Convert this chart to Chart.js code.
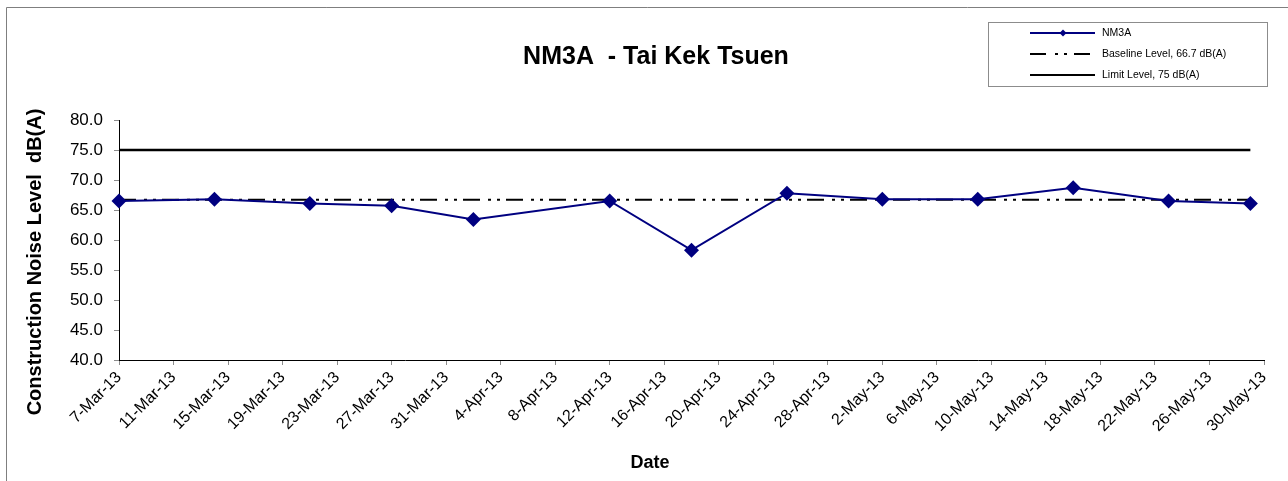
<!DOCTYPE html>
<html>
<head>
<meta charset="utf-8">
<script src="https://cdn.jsdelivr.net/npm/chart.js@4/dist/chart.umd.min.js"></script>
<style>
  html, body { margin: 0; padding: 0; background: #ffffff; }
  #wrap { width: 1288px; height: 481px; position: relative; }
</style>
</head>
<body>
<div id="wrap"><canvas id="c" width="1288" height="481"></canvas></div>
<script>
// ---- Data ----
const sampleDates = ['2013-03-07','2013-03-14','2013-03-21','2013-03-27','2013-04-02','2013-04-12','2013-04-18','2013-04-25','2013-05-02','2013-05-09','2013-05-16','2013-05-23','2013-05-29'];
const nm3aValues = [66.5, 66.8, 66.1, 65.7, 63.4, 66.5, 58.3, 67.8, 66.8, 66.8, 68.7, 66.5, 66.1];
const baselineValues = [66.7, 66.7, 66.7, 66.7, 66.7, 66.7, 66.7, 66.7, 66.7, 66.7, 66.7, 66.7, 66.7];
const limitValues = [75, 75, 75, 75, 75, 75, 75, 75, 75, 75, 75, 75, 75];
const xTickLabels = ['7-Mar-13','11-Mar-13','15-Mar-13','19-Mar-13','23-Mar-13','27-Mar-13','31-Mar-13','4-Apr-13','8-Apr-13','12-Apr-13','16-Apr-13','20-Apr-13','24-Apr-13','28-Apr-13','2-May-13','6-May-13','10-May-13','14-May-13','18-May-13','22-May-13','26-May-13','30-May-13'];
const axisStartDate = '2013-03-07';
const axisEndDate = '2013-05-30';
const xTickStepDays = 4;
const seriesNames = ['NM3A', 'Baseline Level, 66.7 dB(A)', 'Limit Level, 75 dB(A)'];
const chartTitle = 'NM3A  - Tai Kek Tsuen';
const yAxisTitle = 'Construction Noise Level  dB(A)';
const xAxisTitle = 'Date';

// ---- Helpers ----
function dayOffset(d) {
  return Math.round((Date.parse(d + 'T00:00:00Z') - Date.parse(axisStartDate + 'T00:00:00Z')) / 86400000);
}
function toPoints(values) {
  return values.map((v, i) => ({ x: dayOffset(sampleDates[i]), y: v }));
}
const FONT = '"Liberation Sans", Arial, sans-serif';
const NAVY = '#000080';
const BASE_DASH = [17, 8, 3, 6, 3, 6];

const decor = {
  id: 'decor',
  beforeDraw(chart) {
    const ctx = chart.ctx;
    ctx.save();
    ctx.fillStyle = '#ffffff';
    ctx.fillRect(0, 0, chart.width, chart.height);
    ctx.strokeStyle = '#7f7f7f';
    ctx.lineWidth = 1;
    ctx.beginPath();
    ctx.moveTo(6.5, chart.height);
    ctx.lineTo(6.5, 7.5);
    ctx.lineTo(chart.width, 7.5);
    ctx.stroke();
    ctx.restore();
  },
  afterDraw(chart) {
    const ctx = chart.ctx;
    ctx.save();
    // Title
    ctx.fillStyle = '#000';
    ctx.font = 'bold 25px ' + FONT;
    ctx.textAlign = 'center';
    ctx.textBaseline = 'middle';
    ctx.fillText(chartTitle, 656, 57);
    // Y title
    ctx.save();
    ctx.translate(35, 262);
    ctx.rotate(-Math.PI / 2);
    ctx.font = 'bold 20px ' + FONT;
    ctx.fillText(yAxisTitle, 0, 0);
    ctx.restore();
    // X title
    ctx.font = 'bold 18px ' + FONT;
    ctx.fillText(xAxisTitle, 650, 463);

    // Legend box
    ctx.strokeStyle = '#8c8c8c';
    ctx.lineWidth = 1;
    ctx.strokeRect(988.5, 22.5, 279, 64);
    const rows = [33, 54, 75];
    const x0 = 1030, x1 = 1095;
    ctx.font = '10.5px ' + FONT;
    ctx.textAlign = 'left';
    ctx.fillStyle = '#000';
    // row 1
    ctx.strokeStyle = NAVY;
    ctx.lineWidth = 2;
    ctx.beginPath(); ctx.moveTo(x0, rows[0]); ctx.lineTo(x1, rows[0]); ctx.stroke();
    ctx.fillStyle = NAVY;
    ctx.beginPath();
    const cx = 1063, r = 3.5;
    ctx.moveTo(cx, rows[0] - r); ctx.lineTo(cx + r, rows[0]); ctx.lineTo(cx, rows[0] + r); ctx.lineTo(cx - r, rows[0]);
    ctx.closePath(); ctx.fill();
    // row 2
    ctx.strokeStyle = '#000';
    ctx.lineWidth = 2;
    ctx.setLineDash([16, 9, 3, 6, 3, 7]);
    ctx.beginPath(); ctx.moveTo(x0, rows[1]); ctx.lineTo(1090, rows[1]); ctx.stroke();
    ctx.setLineDash([]);
    // row 3
    ctx.lineWidth = 2;
    ctx.beginPath(); ctx.moveTo(x0, rows[2]); ctx.lineTo(x1, rows[2]); ctx.stroke();
    ctx.fillStyle = '#000';
    seriesNames.forEach((n, i) => ctx.fillText(n, 1102, rows[i]));
    ctx.restore();
  }
};

new Chart(document.getElementById('c'), {
  type: 'line',
  data: {
    datasets: [
      {
        label: seriesNames[2], data: toPoints(limitValues),
        borderColor: '#000', borderWidth: 2.5, pointRadius: 0, fill: false, order: 3
      },
      {
        label: seriesNames[1], data: toPoints(baselineValues),
        borderColor: '#000', borderWidth: 2, borderDash: BASE_DASH, pointRadius: 0, fill: false, order: 2
      },
      {
        label: seriesNames[0], data: toPoints(nm3aValues),
        borderColor: NAVY, backgroundColor: NAVY, borderWidth: 2,
        pointStyle: 'rectRot', pointRadius: 7.5, pointBorderWidth: 0,
        pointBackgroundColor: NAVY, pointBorderColor: NAVY, fill: false, order: 1
      }
    ]
  },
  options: {
    responsive: false,
    animation: false,
    clip: false,
    layout: { padding: { top: 120, right: 24, left: 0, bottom: 0 } },
    plugins: { legend: { display: false }, title: { display: false }, tooltip: { enabled: false } },
    elements: { line: { tension: 0 } },
    scales: {
      x: {
        type: 'linear',
        min: 0,
        max: dayOffset(axisEndDate),
        afterFit(s) { s.height = 121; },
        afterBuildTicks(s) {
          s.ticks = xTickLabels.map((l, i) => ({ value: i * xTickStepDays }));
        },
        ticks: {
          autoSkip: false,
          maxRotation: 45, minRotation: 45,
          color: '#000',
          font: { family: FONT, size: 16 },
          padding: 3,
          callback(v) { return xTickLabels[Math.round(v / xTickStepDays)]; }
        },
        grid: { drawOnChartArea: false, drawTicks: true, tickLength: 5, tickColor: '#8c8c8c' },
        border: { display: true, color: '#000', width: 1 }
      },
      y: {
        min: 40, max: 80,
        afterFit(s) { s.width = 119; },
        ticks: {
          stepSize: 5,
          color: '#000',
          font: { family: FONT, size: 17 },
          padding: 11,
          callback(v) { return Number(v).toFixed(1); }
        },
        grid: { drawOnChartArea: false, drawTicks: true, tickLength: 5, tickColor: '#8c8c8c' },
        border: { display: true, color: '#000', width: 1 }
      }
    }
  },
  plugins: [decor]
});
</script>
</body>
</html>
